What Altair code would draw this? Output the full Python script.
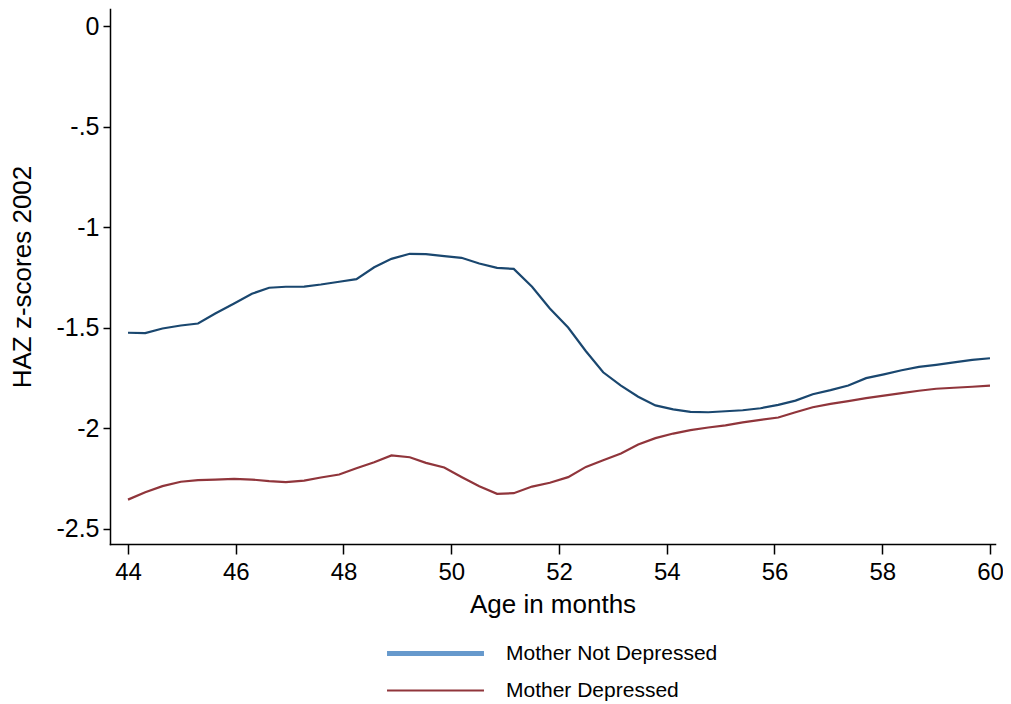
import altair as alt
import pandas as pd

# Age in months (x positions of the plotted points)
months = [44.00, 44.32, 44.64, 44.98, 45.30, 45.62, 45.97, 46.30, 46.62, 46.93,
          47.27, 47.58, 47.92, 48.24, 48.57, 48.89, 49.23, 49.53, 49.87, 50.19,
          50.52, 50.85, 51.16, 51.50, 51.83, 52.17, 52.50, 52.82, 53.15, 53.47,
          53.79, 54.12, 54.44, 54.77, 55.09, 55.41, 55.74, 56.07, 56.39, 56.71,
          57.04, 57.37, 57.70, 58.03, 58.36, 58.68, 59.00, 59.33, 59.67, 60.00]

not_depressed = [-1.525, -1.527, -1.504, -1.489, -1.479, -1.429, -1.379, -1.331, -1.301, -1.296,
                 -1.295, -1.285, -1.271, -1.258, -1.199, -1.157, -1.132, -1.134, -1.144, -1.152,
                 -1.180, -1.202, -1.207, -1.296, -1.404, -1.499, -1.617, -1.722, -1.788, -1.844,
                 -1.887, -1.907, -1.919, -1.921, -1.916, -1.911, -1.901, -1.884, -1.863, -1.831,
                 -1.811, -1.788, -1.751, -1.732, -1.712, -1.695, -1.685, -1.673, -1.660, -1.652]

depressed = [-2.356, -2.319, -2.289, -2.267, -2.259, -2.256, -2.253, -2.256, -2.264, -2.269,
             -2.261, -2.246, -2.231, -2.200, -2.170, -2.136, -2.145, -2.173, -2.196, -2.243,
             -2.289, -2.327, -2.324, -2.291, -2.272, -2.244, -2.193, -2.160, -2.126, -2.082,
             -2.050, -2.027, -2.010, -1.997, -1.986, -1.971, -1.959, -1.947, -1.921, -1.896,
             -1.879, -1.866, -1.851, -1.838, -1.826, -1.814, -1.804, -1.799, -1.794, -1.788]

series_names = ["Mother Not Depressed", "Mother Depressed"]
line_colors = ["#1a476f", "#90353b"]
legend_colors = ["#6699cc", "#90353b"]
legend_widths = [5, 2]

x_ticks = [44, 46, 48, 50, 52, 54, 56, 58, 60]
y_ticks = [0, -0.5, -1, -1.5, -2, -2.5]

rows = []
for m, a, b in zip(months, not_depressed, depressed):
    rows.append({"age": m, "haz": a, "group": series_names[0]})
    rows.append({"age": m, "haz": b, "group": series_names[1]})
df = pd.DataFrame(rows)

FONT = "Liberation Sans"

x_enc = alt.X("age:Q",
              scale=alt.Scale(domain=[43.666, 60.093], nice=False, zero=False),
              axis=alt.Axis(values=x_ticks, title="Age in months", grid=False,
                            labelFontSize=24, titleFontSize=26, titleFontWeight="normal",
                            labelPadding=6, titlePadding=7, tickSize=10,
                            domainColor="black", tickColor="black",
                            domainWidth=1.5, tickWidth=1.5,
                            labelColor="black", titleColor="black",
                            labelFont=FONT, titleFont=FONT, labelFlush=False))
y_enc = alt.Y("haz:Q",
              scale=alt.Scale(domain=[-2.577, 0.087], nice=False, zero=False),
              axis=alt.Axis(values=y_ticks, title="HAZ z-scores 2002", grid=False,
                            labelExpr="(datum.value < 0 ? '-' : '') + replace(format(abs(datum.value), ''), '0.', '.')",
                            labelFontSize=25, titleFontSize=26, titleFontWeight="normal",
                            labelPadding=4, titlePadding=20, tickSize=7,
                            domainColor="black", tickColor="black",
                            domainWidth=1.5, tickWidth=1.5,
                            labelColor="black", titleColor="black",
                            labelFont=FONT, titleFont=FONT, labelFlush=False))

lines = alt.Chart(df).mark_line(strokeWidth=2.2).encode(
    x=x_enc,
    y=y_enc,
    color=alt.Color("group:N", scale=alt.Scale(domain=series_names, range=line_colors), legend=None),
    detail="group:N",
)

legend_cfg = dict(title=None, orient="none", legendX=315, legendY=634,
                  direction="vertical", symbolType="M-10,0H10",
                  symbolSize=94, symbolOpacity=1, symbolFillColor="transparent",
                  labelFontSize=21, labelFont=FONT, labelColor="black", labelLimit=0,
                  labelOffset=60, rowPadding=15, padding=0)

legend_layer = alt.Chart(df).mark_line(opacity=0).encode(
    x="age:Q",
    y="haz:Q",
    stroke=alt.Stroke("group:N", scale=alt.Scale(domain=series_names, range=legend_colors),
                      legend=alt.Legend(**legend_cfg)),
    strokeWidth=alt.StrokeWidth("group:N", scale=alt.Scale(domain=series_names, range=legend_widths),
                                legend=alt.Legend(**legend_cfg)),
)

chart = alt.layer(lines, legend_layer).resolve_scale(color="independent").properties(
    width=885, height=535,
    autosize=alt.AutoSizeParams(type="none"),
    padding={"left": 102, "top": 1, "right": 8, "bottom": 158},
    background="white",
).configure_view(stroke=None).configure_axis(domainCap="square")

chart.save("out.html", embed_options={"renderer": "svg", "actions": False})
